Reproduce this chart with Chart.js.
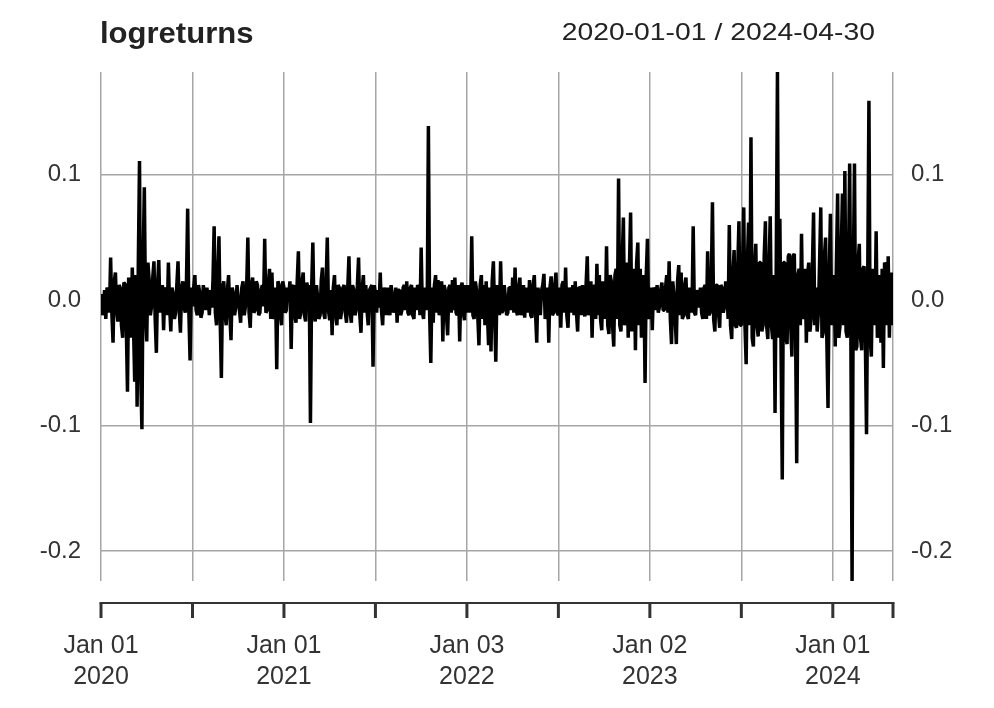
<!DOCTYPE html>
<html>
<head>
<meta charset="utf-8">
<script src="https://cdn.jsdelivr.net/npm/chart.js@4.4.1/dist/chart.umd.min.js"></script>
<style>
  html, body { margin: 0; padding: 0; background: #fff; }
  #wrap { width: 994px; height: 708px; }
</style>
</head>
<body>
<div id="wrap"><canvas id="chart" width="994" height="708"></canvas></div>
<script>
// log returns, one array per half year
const ret2020a = [0.005, -0.012, -0.003, 0.008, -0.015, 0.01, 0.008, -0.01, 0.034, -0.01, -0.034, 0.015, 0.022, -0.008, -0.017, 0.012, 0.01, -0.02, -0.03, 0.014,
    0.013, -0.02, -0.073, 0.018, 0.005, -0.03, 0.026, -0.02, -0.065, 0.02, -0.085, 0.03, 0.111, -0.06, -0.103, 0.03, 0.09, -0.01, -0.033, 0.03,
    0.016, -0.012, -0.005, 0.018, 0.031, -0.015, -0.042, 0.012, 0.032, -0.01, 0.002, 0.012, -0.024, 0.008, 0.01, -0.012, 0.03, -0.005, -0.025, 0.01,
    0.005, -0.015, -0.01, 0.012, 0.031, -0.008, -0.026, 0.01, 0.015, -0.006, -0.01, 0.015, 0.073, -0.01, -0.048, 0.01];
const ret2020b = [-0.005, 0.01, 0.02, -0.008, -0.012, 0.012, 0.006, -0.014, -0.01, 0.012, 0.004, -0.008, 0.01, 0.002, -0.012, 0.008, -0.006, 0.015, 0.059, -0.01,
    -0.02, 0.02, 0.051, -0.015, -0.062, 0.01, 0.015, -0.01, -0.02, 0.008, 0.02, -0.01, -0.032, 0.01, 0.005, -0.012, -0.005, 0.012, 0.002, -0.008,
    -0.018, 0.01, 0.015, -0.012, -0.005, 0.01, 0.05, -0.01, -0.022, 0.012, 0.018, -0.01, -0.008, 0.015, 0.012, -0.012, -0.01, 0.008, 0.012, -0.005,
    0.049, -0.01, -0.008, 0.012, 0.025, -0.015, 0.022, -0.01, -0.015, 0.01, -0.055, 0.015, 0.012, -0.01, -0.02, 0.015];
const ret2021a = [0.01, -0.01, -0.008, 0.01, 0.005, 0.015, -0.039, 0.01, 0.012, -0.012, -0.018, 0.015, 0.039, -0.015, -0.01, 0.015, 0.022, -0.012, -0.017, 0.014,
    0.008, 0.012, -0.098, 0.01, 0.046, -0.012, -0.017, 0.012, 0.002, -0.015, -0.012, 0.016, 0.026, -0.01, -0.015, 0.012, 0.05, -0.008, -0.016, 0.008,
    -0.028, 0.01, 0.02, -0.012, -0.02, 0.012, 0.01, -0.015, -0.008, 0.01, 0.012, -0.01, -0.018, 0.01, 0.035, -0.01, -0.018, 0.012, 0.008, -0.012,
    -0.008, 0.012, 0.034, -0.012, -0.026, 0.01, 0.02, -0.01, 0.012, -0.008, -0.02, 0.008, 0.01, 0.012, -0.053, 0.012];
const ret2021b = [0.005, -0.01, 0.008, -0.006, 0.022, -0.008, -0.02, 0.01, 0.005, -0.012, 0.01, -0.005, -0.012, 0.012, 0.005, -0.01, -0.005, 0.01, -0.018, 0.008,
    0.008, -0.012, -0.008, 0.01, 0.012, -0.008, 0.015, -0.01, -0.012, 0.01, 0.012, -0.012, -0.015, 0.01, -0.008, 0.012, 0.01, -0.012, 0.042, -0.01,
    -0.015, 0.01, 0.005, -0.008, 0.139, -0.01, -0.05, 0.01, -0.018, 0.012, 0.02, -0.01, 0.016, -0.012, -0.005, 0.015, -0.033, 0.012, 0.008, -0.012,
    -0.028, 0.01, 0.012, -0.01, 0.016, -0.008, 0.018, -0.01, -0.012, 0.012, -0.033, 0.01, 0.014, -0.01, -0.016, 0.012];
const ret2022a = [-0.01, 0.012, 0.005, -0.01, 0.051, -0.012, -0.015, 0.015, 0.008, -0.012, -0.036, 0.012, 0.02, -0.015, 0.012, -0.02, 0.015, -0.01, -0.036, 0.01,
    -0.041, 0.015, 0.031, -0.01, -0.049, 0.012, 0.005, -0.012, 0.031, -0.01, -0.008, 0.012, 0.002, -0.012, -0.01, 0.01, 0.01, -0.008, 0.018, -0.01,
    0.026, -0.008, -0.012, 0.01, 0.018, -0.012, -0.005, 0.012, -0.014, 0.01, 0.006, -0.01, 0.016, -0.012, -0.014, 0.012, 0.02, -0.01, -0.034, 0.01,
    0.002, -0.012, 0.008, 0.012, 0.021, -0.015, -0.008, 0.01, -0.034, 0.01, 0.019, -0.012, -0.01, 0.012, 0.022, -0.01];
const ret2022b = [-0.012, 0.01, -0.022, 0.012, 0.015, -0.01, 0.026, -0.012, -0.022, 0.01, 0.005, -0.01, 0.012, -0.012, 0.015, -0.01, -0.025, 0.01, 0.01, -0.012,
    0.012, -0.008, -0.013, 0.012, 0.035, -0.012, -0.005, 0.015, -0.03, 0.012, 0.01, -0.015, 0.029, -0.012, 0.02, -0.015, -0.024, 0.015, 0.01, -0.015,
    0.043, -0.02, -0.027, 0.02, 0.015, -0.02, -0.037, 0.02, 0.025, -0.015, 0.097, -0.02, -0.025, 0.03, 0.066, -0.02, -0.01, 0.03, -0.03, 0.025,
    0.07, -0.025, 0.005, 0.025, -0.04, 0.03, 0.046, -0.02, 0.025, -0.03, -0.008, 0.02, -0.066, 0.02, 0.049, -0.015];
const ret2023a = [-0.01, 0.01, -0.024, 0.01, 0.008, -0.008, 0.012, -0.01, -0.005, 0.008, 0.014, -0.008, -0.008, 0.01, 0.02, -0.01, 0.031, -0.015, -0.035, 0.015,
    0.005, -0.015, -0.035, 0.015, 0.028, -0.012, 0.022, -0.015, -0.012, 0.012, 0.018, -0.012, -0.015, 0.01, 0.006, -0.01, 0.059, -0.01, -0.012, 0.008,
    0.004, -0.006, 0.01, -0.01, -0.015, 0.01, 0.012, -0.015, 0.039, -0.012, -0.01, 0.012, 0.078, -0.015, -0.025, 0.012, 0.012, -0.01, -0.022, 0.012,
    0.01, -0.01, -0.005, 0.015, 0.008, -0.015, 0.06, -0.02, -0.031, 0.02, 0.04, -0.02, -0.022, 0.025, 0.063, -0.02];
const ret2023b = [-0.02, 0.025, 0.074, -0.02, -0.051, 0.03, 0.062, -0.02, 0.13, -0.03, -0.037, 0.025, 0.045, -0.02, -0.029, 0.03, 0.03, -0.025, -0.02, 0.035,
    0.063, -0.02, -0.031, 0.025, 0.067, -0.02, -0.031, 0.02, -0.09, 0.03, 0.182, -0.03, 0.065, -0.04, -0.143, 0.03, 0.03, -0.03, -0.035, 0.035,
    0.037, -0.02, -0.045, 0.035, 0.037, -0.02, -0.13, 0.02, 0.025, -0.02, 0.053, -0.015, -0.01, 0.025, -0.034, 0.02, 0.03, -0.025, -0.015, 0.025,
    0.07, -0.02, 0.01, -0.025, -0.01, 0.03, 0.074, -0.03, -0.026, 0.035, 0.05, -0.03, -0.086, 0.02, 0.069, -0.02];
const ret2024a = [0.01, 0.02, -0.037, 0.03, 0.085, -0.03, -0.02, 0.04, 0.085, -0.02, 0.103, -0.025, -0.03, 0.03, 0.109, -0.03, -0.224, 0.02, 0.109, -0.04,
    -0.037, 0.03, 0.045, -0.03, -0.04, 0.025, 0.027, -0.03, -0.107, 0.02, 0.159, -0.03, -0.045, 0.025, 0.01, -0.02, 0.055, -0.03, -0.015, 0.02,
    -0.034, 0.025, -0.054, 0.03, 0.027, -0.02, 0.035, -0.03, 0.016, 0.022, -0.02];

const xLabels = [['Jan 01', '2020'], '', ['Jan 01', '2021'], '', ['Jan 03', '2022'], '', ['Jan 02', '2023'], '', ['Jan 01', '2024'], ''];
const yTicks = [-0.2, -0.1, 0.0, 0.1];
const titleText = 'logreturns';
const rangeText = '2020-01-01 / 2024-04-30';

const segments = [ret2020a, ret2020b, ret2021a, ret2021b, ret2022a, ret2022b, ret2023a, ret2023b, ret2024a];
const values = [].concat(...segments);
const points = values.map((v, i) => ({ x: i, y: v }));

// tick at the first observation of every half year, plus the last one
const tickIdx = [];
let acc = 0;
segments.forEach(s => { tickIdx.push(acc); acc += s.length; });
tickIdx.push(acc - 1);

const FONT = '"Liberation Sans", Arial, Helvetica, sans-serif';
const gridColor = '#a6a6a6';
const textColor = '#333333';

// draw text a bit wider, the way the original font sits
function wideText(ctx, text, x, y, sx, align) {
    ctx.save();
    const w = ctx.measureText(text).width * sx;
    const left = align === 'right' ? x - w : x;
    ctx.translate(left, y);
    ctx.scale(sx, 1);
    ctx.textAlign = 'left';
    ctx.fillText(text, 0, 0);
    ctx.restore();
}

// header texts and the detached bottom axis line
const extras = {
    id: 'extras',
    afterDraw(chart) {
        const { ctx, chartArea, scales } = chart;
        const x = scales.x;
        ctx.save();
        ctx.fillStyle = '#222222';
        ctx.textBaseline = 'alphabetic';
        ctx.font = 'bold 29px ' + FONT;
        wideText(ctx, titleText, 100, 43, 1.07, 'left');
        ctx.font = '24px ' + FONT;
        wideText(ctx, rangeText, 875, 40, 1.18, 'right');

        const axisY = chartArea.bottom + 22;
        ctx.strokeStyle = textColor;
        ctx.lineWidth = 2;
        ctx.beginPath();
        ctx.moveTo(x.getPixelForValue(x.min) - 1.5, axisY);
        ctx.lineTo(x.getPixelForValue(x.max) + 1.5, axisY);
        ctx.stroke();
        ctx.lineWidth = 3;
        tickIdx.forEach(v => {
            const px = x.getPixelForValue(v);
            ctx.beginPath();
            ctx.moveTo(px, axisY);
            ctx.lineTo(px, axisY + 15);
            ctx.stroke();
        });
        ctx.restore();
    }
};

const yScale = (position, padding, showGrid) => ({
    type: 'linear',
    position: position,
    min: -0.224,
    max: 0.182,
    bounds: 'data',
    afterBuildTicks: s => { s.ticks = yTicks.map(v => ({ value: v })); },
    afterFit: s => { s.width = 101; },
    grid: { display: showGrid, color: gridColor, lineWidth: 1.5, drawTicks: false },
    border: { display: false },
    ticks: {
        padding: padding,
        color: textColor,
        font: { family: FONT, size: 24 },
        callback: v => v.toFixed(1)
    }
});

new Chart(document.getElementById('chart'), {
    type: 'line',
    data: {
        datasets: [{
            label: titleText,
            data: points,
            borderColor: '#000000',
            borderWidth: 3.5,
            borderJoinStyle: 'bevel',
            pointRadius: 0,
            tension: 0,
            fill: false,
            yAxisID: 'y'
        }]
    },
    options: {
        responsive: false,
        animation: false,
        devicePixelRatio: 1,
        layout: { padding: { top: 72, left: 0, right: 0, bottom: 0 } },
        plugins: { legend: { display: false }, tooltip: { enabled: false } },
        scales: {
            x: {
                type: 'linear',
                position: 'bottom',
                min: 0,
                max: values.length - 1,
                bounds: 'data',
                afterBuildTicks: s => { s.ticks = tickIdx.map(v => ({ value: v })); },
                afterFit: s => { s.height = 127; },
                grid: { color: gridColor, lineWidth: 1.5, drawTicks: false },
                border: { display: false },
                ticks: {
                    autoSkip: false,
                    maxRotation: 0,
                    padding: 50,
                    color: textColor,
                    font: { family: FONT, size: 25, lineHeight: 1.24 },
                    callback: (v, i) => xLabels[i]
                }
            },
            y: yScale('left', 20, true),
            y2: yScale('right', 18, false)
        }
    },
    plugins: [extras]
});
</script>
</body>
</html>
